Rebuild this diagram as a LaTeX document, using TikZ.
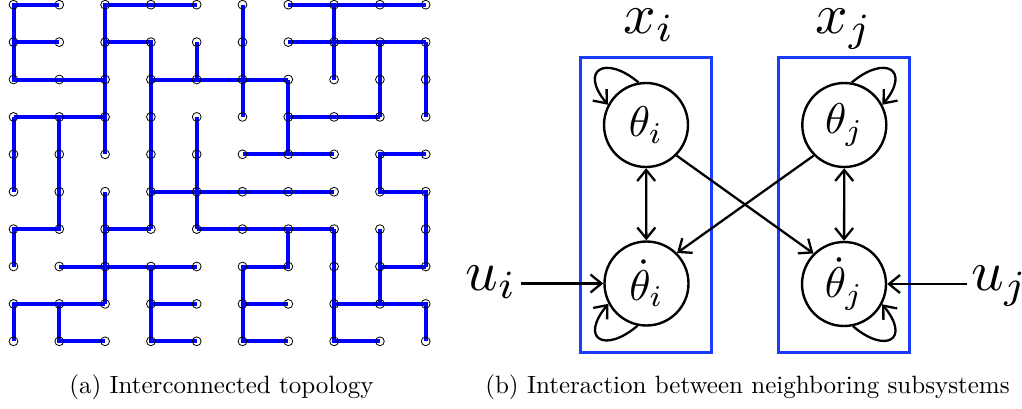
\documentclass[tikz,border=0pt]{standalone}
\usepackage{graphicx}
\usetikzlibrary{arrows.meta,backgrounds}
\definecolor{gridblue}{RGB}{0,0,255}
\definecolor{boxblue}{RGB}{25,60,255}
\begin{document}
\begin{tikzpicture}[x=1pt,y=-1pt,
  gnode/.style={circle,draw=black,line width=0.8pt,minimum size=8.8pt,inner sep=0pt},
  gedge/.style={draw=gridblue,line width=4pt},
  state/.style={circle,draw=black,line width=2.4pt,minimum size=84pt,inner sep=0pt},
  sbox/.style={draw=boxblue,line width=2.6pt,minimum width=131pt,minimum height=295pt,inner sep=0pt},
  mytip/.tip={Straight Barb[length=11pt,width=18pt]},
  arr/.style={line width=2.3pt,-mytip},
  darr/.style={line width=2.3pt,mytip-mytip},
  lbl/.style={inner sep=0pt},
  ulbl/.style={inner sep=0pt,inner xsep=4pt},
  captxt/.style={inner sep=0pt}
]
\useasboundingbox (0,0) rectangle (1022,408);

% ---------- (a) grid ----------
\foreach \c in {0,...,9}{
  \foreach \r in {0,...,9}{
    \node[gnode] (n-\c-\r) at ({13.5+45.8*\c},{4.7+37.4*\r}) {};
  }
}
\begin{scope}[on background layer]
\draw[gedge] (n-1-0.center) -- (n-0-0.center) -- (n-0-1.center) -- (n-0-2.center) -- (n-1-2.center) -- (n-2-2.center);
\draw[gedge] (n-0-1.center) -- (n-1-1.center);
\draw[gedge] (n-4-0.center) -- (n-3-0.center) -- (n-2-0.center) -- (n-2-1.center) -- (n-2-2.center) -- (n-2-3.center) -- (n-2-4.center);
\draw[gedge] (n-2-1.center) -- (n-3-1.center) -- (n-3-2.center) -- (n-3-3.center) -- (n-3-4.center) -- (n-3-5.center) -- (n-3-6.center);
\draw[gedge] (n-3-2.center) -- (n-4-2.center) -- (n-5-2.center) -- (n-6-2.center);
\draw[gedge] (n-4-1.center) -- (n-4-2.center);
\draw[gedge] (n-0-3.center) -- (n-1-3.center) -- (n-2-3.center);
\draw[gedge] (n-0-3.center) -- (n-0-4.center) -- (n-0-5.center);
\draw[gedge] (n-1-3.center) -- (n-1-4.center) -- (n-1-5.center) -- (n-1-6.center) -- (n-0-6.center) -- (n-0-7.center);
\draw[gedge] (n-4-3.center) -- (n-4-4.center) -- (n-4-5.center) -- (n-4-6.center);
\draw[gedge] (n-5-0.center) -- (n-5-1.center) -- (n-5-2.center) -- (n-5-3.center);
\draw[gedge] (n-6-0.center) -- (n-7-0.center) -- (n-8-0.center) -- (n-9-0.center);
\draw[gedge] (n-7-0.center) -- (n-7-1.center) -- (n-7-2.center);
\draw[gedge] (n-6-1.center) -- (n-7-1.center) -- (n-8-1.center) -- (n-9-1.center);
\draw[gedge] (n-8-1.center) -- (n-8-2.center) -- (n-8-3.center);
\draw[gedge] (n-9-1.center) -- (n-9-2.center) -- (n-9-3.center);
\draw[gedge] (n-6-2.center) -- (n-6-3.center) -- (n-6-4.center);
\draw[gedge] (n-6-3.center) -- (n-7-3.center) -- (n-8-3.center);
\draw[gedge] (n-5-4.center) -- (n-6-4.center) -- (n-7-4.center);
\draw[gedge] (n-9-4.center) -- (n-8-4.center) -- (n-8-5.center) -- (n-9-5.center) -- (n-9-6.center) -- (n-9-7.center);
\draw[gedge] (n-3-5.center) -- (n-4-5.center) -- (n-5-5.center) -- (n-6-5.center) -- (n-7-5.center);
\draw[gedge] (n-2-5.center) -- (n-2-6.center) -- (n-2-7.center) -- (n-2-8.center);
\draw[gedge] (n-2-6.center) -- (n-3-6.center);
\draw[gedge] (n-4-6.center) -- (n-5-6.center) -- (n-6-6.center) -- (n-7-6.center);
\draw[gedge] (n-6-6.center) -- (n-6-7.center) -- (n-5-7.center) -- (n-5-8.center) -- (n-5-9.center) -- (n-6-9.center);
\draw[gedge] (n-5-8.center) -- (n-6-8.center);
\draw[gedge] (n-7-6.center) -- (n-7-7.center) -- (n-7-8.center) -- (n-7-9.center) -- (n-8-9.center);
\draw[gedge] (n-8-6.center) -- (n-8-7.center) -- (n-8-8.center);
\draw[gedge] (n-8-7.center) -- (n-9-7.center);
\draw[gedge] (n-7-8.center) -- (n-8-8.center) -- (n-9-8.center) -- (n-9-9.center);
\draw[gedge] (n-1-7.center) -- (n-2-7.center) -- (n-3-7.center) -- (n-4-7.center);
\draw[gedge] (n-3-7.center) -- (n-3-8.center) -- (n-3-9.center) -- (n-4-9.center);
\draw[gedge] (n-3-8.center) -- (n-4-8.center);
\draw[gedge] (n-2-8.center) -- (n-1-8.center) -- (n-0-8.center) -- (n-0-9.center);
\draw[gedge] (n-1-8.center) -- (n-1-9.center) -- (n-2-9.center);
\end{scope}

% ---------- (b) subsystems ----------
\node[sbox] (bi) at (646,205) {};
\node[sbox] (bj) at (844.25,205) {};

\node[state] (ti)  at (646,125)    {\scalebox{4.3}{$\theta_i$}};
\node[state] (tdi) at (646.5,283.5) {\scalebox{4.3}{$\dot\theta_i$}};
\node[state] (tj)  at (844.3,125)  {\scalebox{4.3}{$\theta_j$}};
\node[state] (tdj) at (844,284)    {\scalebox{4.3}{$\dot\theta_j$}};

\node[lbl,anchor=base] (xi) at (649,33) {\scalebox{5.7}{$x_i$}};
\node[lbl,anchor=base] (xj) at (844,33) {\scalebox{5.7}{$x_j$}};

\node[ulbl,anchor=base east] (ui) at (521,290) {\scalebox{5.7}{$u_i$}};
\node[ulbl,anchor=base west] (uj) at (967,290) {\scalebox{5.7}{$u_j$}};

\draw[arr] (ui.east |- tdi.west) -- (tdi.west);
\draw[arr] (uj.west |- tdj.east) -- (tdj.east);

\draw[darr] (ti) -- (tdi);
\draw[darr] (tj) -- (tdj);
\draw[arr] (ti.-45) -- (tdj.135);
\draw[arr] (tj.-135) -- (tdi.45);

\draw[arr] (ti.100) .. controls +(-33,-28) and +(-29,-35) .. (ti.152);
\draw[arr] (tj.80) .. controls +(33,-28) and +(29,-35) .. (tj.28);
\draw[arr] (tdi.258) .. controls +(-33,28) and +(-29,35) .. (tdi.208);
\draw[arr] (tdj.282) .. controls +(33,28) and +(29,35) .. (tdj.332);

% ---------- captions ----------
\node[captxt,anchor=base] (capa) at (221.5,393) {\scalebox{2.5}{(a) Interconnected topology}};
\node[captxt,anchor=base] (capb) at (747.5,393) {\scalebox{2.5}{(b) Interaction between neighboring subsystems}};
\end{tikzpicture}
\end{document}
